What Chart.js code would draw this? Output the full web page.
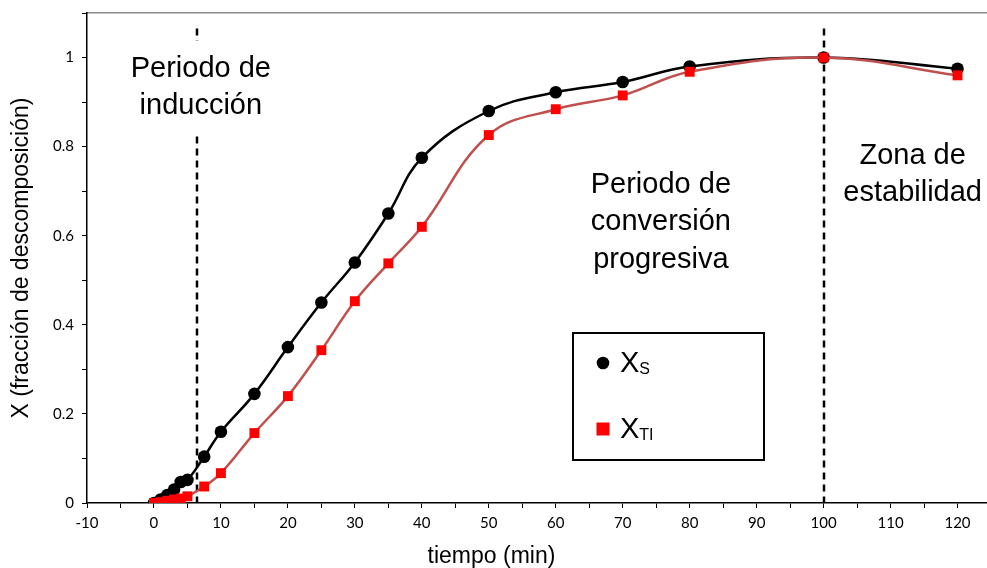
<!DOCTYPE html>
<html>
<head>
<meta charset="utf-8">
<script src="https://cdn.jsdelivr.net/npm/chart.js@4/dist/chart.umd.min.js"></script>
<style>
html,body{margin:0;padding:0;background:#fff;overflow:hidden;}
#wrap{width:987px;height:568px;position:relative;overflow:hidden;}
#c{position:absolute;left:0;top:-4px;}
</style>
</head>
<body>
<div id="wrap"><canvas id="c" width="998" height="572"></canvas></div>
<script>
// ---- data ----
const tiempo = [0, 1, 2, 3, 4, 5, 7.5, 10, 15, 20, 25, 30, 35, 40, 50, 60, 70, 80, 100, 120];
const xS  = [0, 0.008, 0.018, 0.03, 0.047, 0.052, 0.104, 0.16, 0.245, 0.35, 0.45, 0.54, 0.65, 0.775, 0.88, 0.922, 0.945, 0.98, 1.0, 0.975];
const xTI = [0, 0.002, 0.005, 0.008, 0.01, 0.015, 0.037, 0.067, 0.157, 0.24, 0.343, 0.453, 0.538, 0.62, 0.826, 0.884, 0.915, 0.968, 1.0, 0.96];
const xLimits = [-10, 125];
const yLimits = [0, 1.1];
const zoneLines = [6.4, 100];
const zoneLabels = [
  {x: 7, y: 0.975, lines: ['Periodo de', 'inducción'], box: true},
  {x: 75.7, y: 0.715, lines: ['Periodo de', 'conversión', 'progresiva'], box: false},
  {x: 113.3, y: 0.78, lines: ['Zona de', 'estabilidad'], box: false}
];
const seriesNames = [['X', 'S'], ['X', 'TI']];
const xTitle = 'tiempo (min)';
const yTitle = 'X (fracción de descomposición)';

const toPts = (xs, ys) => xs.map((x, i) => ({x: x, y: ys[i]}));
const ARIAL = '"Liberation Sans", Arial, sans-serif';

const overlay = {
  id: 'overlay',
  beforeDatasetsDraw(chart) {
    const ctx = chart.ctx, xs = chart.scales.x, ys = chart.scales.y;
    ctx.save();
    ctx.strokeStyle = '#000';
    ctx.lineWidth = 2.5;
    ctx.setLineDash([7, 5]);
    zoneLines.forEach(v => {
      const px = Math.round(xs.getPixelForValue(v));
      ctx.beginPath();
      ctx.moveTo(px, ys.getPixelForValue(1.065));
      ctx.lineTo(px, ys.getPixelForValue(0));
      ctx.stroke();
    });
    ctx.setLineDash([]);
    ctx.font = '29px ' + ARIAL;
    ctx.textAlign = 'center';
    ctx.textBaseline = 'middle';
    zoneLabels.forEach(z => {
      const cx = xs.getPixelForValue(z.x), cy = ys.getPixelForValue(z.y);
      const lh = 37.5;
      if (z.box) {
        let w = 0;
        z.lines.forEach(l => { w = Math.max(w, ctx.measureText(l).width); });
        ctx.fillStyle = '#fff';
        ctx.fillRect(cx - w / 2 - 4, cy - 28, w + 8, lh * (z.lines.length - 1) + 56);
      }
      ctx.fillStyle = '#000';
      z.lines.forEach((l, i) => ctx.fillText(l, cx, cy + i * lh));
    });
    // x axis title
    ctx.font = '23px ' + ARIAL;
    ctx.textBaseline = 'alphabetic';
    ctx.fillText(xTitle, xs.getPixelForValue(50.4), ys.getPixelForValue(0) + 60);
    ctx.restore();
  },
  afterDatasetsDraw(chart) {
    const ctx = chart.ctx, xs = chart.scales.x, ys = chart.scales.y;
    const lx = Math.round(xs.getPixelForValue(62.54)), ly = Math.round(ys.getPixelForValue(0.381));
    const lw = 191, lhgt = 127;
    ctx.save();
    ctx.fillStyle = '#fff';
    ctx.fillRect(lx, ly, lw, lhgt);
    ctx.strokeStyle = '#000';
    ctx.lineWidth = 2;
    ctx.strokeRect(lx, ly, lw, lhgt);
    const legendItems = [
      {ds: chart.data.datasets[1], name: seriesNames[0], cy: ly + 30},
      {ds: chart.data.datasets[0], name: seriesNames[1], cy: ly + 96}
    ];
    legendItems.forEach(it => {
      const my = it.cy, mx = lx + 30;
      ctx.fillStyle = it.ds.pointBackgroundColor;
      if (it.ds.pointStyle === 'rect') {
        ctx.fillRect(mx - 6.5, my - 6.5, 13, 13);
      } else {
        ctx.beginPath(); ctx.arc(mx, my, 6.3, 0, Math.PI * 2); ctx.fill();
      }
      ctx.fillStyle = '#000';
      ctx.textBaseline = 'alphabetic';
      ctx.textAlign = 'left';
      ctx.font = '29px ' + ARIAL;
      const tx = lx + 47;
      ctx.fillText(it.name[0], tx, my + 9);
      const w = ctx.measureText(it.name[0]).width;
      ctx.font = '16px ' + ARIAL;
      ctx.fillText(it.name[1], tx + w, my + 11);
    });
    ctx.restore();
  }
};

new Chart(document.getElementById('c'), {
  type: 'scatter',
  data: {
    datasets: [
      {
        label: 'XTI',
        data: toPts(tiempo, xTI),
        showLine: true,
        borderColor: '#C0504D',
        borderWidth: 2.5,
        tension: 0.4,
        pointStyle: 'rect',
        pointRadius: 7,
        pointBackgroundColor: '#FF0000',
        pointBorderColor: '#FF0000',
        pointBorderWidth: 0,
        order: 1
      },
      {
        label: 'XS',
        data: toPts(tiempo, xS),
        showLine: true,
        borderColor: '#000000',
        borderWidth: 2.5,
        tension: 0.4,
        pointStyle: 'circle',
        pointRadius: 6.3,
        pointBackgroundColor: '#000000',
        pointBorderColor: '#000000',
        pointBorderWidth: 0,
        order: 2
      }
    ]
  },
  options: {
    responsive: false,
    animation: false,
    events: [],
    layout: {padding: 0},
    plugins: {legend: {display: false}, tooltip: {enabled: false}},
    scales: {
      x: {
        type: 'linear',
        position: 'bottom',
        min: xLimits[0], max: xLimits[1],
        afterFit(s) { s.height = 65; },
        border: {color: '#000', width: 1.5},
        grid: {drawOnChartArea: false, drawTicks: true, tickLength: 5, tickColor: '#000', tickWidth: 1},
        ticks: {
          stepSize: 5,
          autoSkip: false,
          maxRotation: 0,
          padding: 6,
          color: '#000',
          font: {family: 'Lato, "Open Sans", sans-serif', size: 15},
          callback: v => (v % 10 === 0 && v <= 120) ? String(v) : ''
        }
      },
      x2: {
        type: 'linear',
        position: 'top',
        min: xLimits[0], max: xLimits[1],
        afterFit(s) { s.height = 13; },
        border: {color: '#8a8a8a', width: 1.5},
        grid: {display: false},
        ticks: {display: false}
      },
      y: {
        min: yLimits[0], max: yLimits[1],
        afterFit(s) { s.width = 87; },
        border: {color: '#000', width: 1.5},
        grid: {drawOnChartArea: false, drawTicks: true, tickLength: 5, tickColor: '#000', tickWidth: 1},
        ticks: {
          stepSize: 0.1,
          autoSkip: false,
          padding: 8,
          color: '#000',
          font: {family: 'Lato, "Open Sans", sans-serif', size: 15},
          callback: v => {
            const r = Math.round(v * 10);
            return (r % 2 === 0 && r <= 10) ? String(r / 10) : '';
          }
        },
        title: {display: true, text: yTitle, color: '#000', font: {family: ARIAL, size: 23, lineHeight: 1.2}, padding: {top: 8, bottom: 8}}
      }
    }
  },
  plugins: [overlay]
});
</script>
</body>
</html>
